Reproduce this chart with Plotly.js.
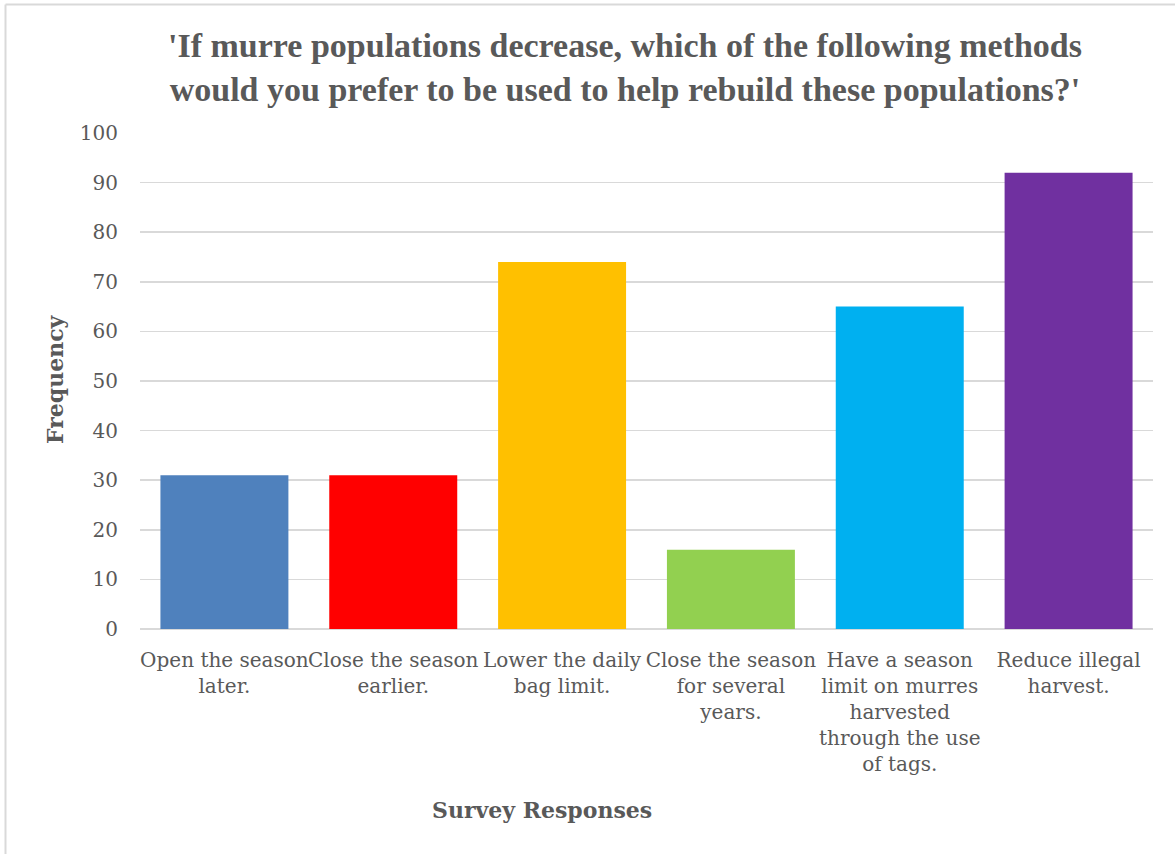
<!DOCTYPE html>
<html>
<head>
<meta charset="utf-8">
<script src="https://cdn.plot.ly/plotly-3.0.1.min.js"></script>
<style>html,body{margin:0;padding:0;background:#fff;}#chart{width:1175px;height:854px;}</style>
</head>
<body>
<div id="chart"></div>
<script>
var categories = [
  "Open the season<br>later.",
  "Close the season<br>earlier.",
  "Lower the daily<br>bag limit.",
  "Close the season<br>for several<br>years.",
  "Have a season<br>limit on murres<br>harvested<br>through the use<br>of tags.",
  "Reduce illegal<br>harvest."
];
var frequency = [31, 31, 74, 16, 65, 92];
var barColors = ["#4F81BD", "#FF0000", "#FFC000", "#92D050", "#00B0F0", "#7030A0"];
var yTicks = [0, 10, 20, 30, 40, 50, 60, 70, 80, 90, 100];
var titleText = "'If murre populations decrease, which of the following methods<br>would you prefer to be used to help rebuild these populations?'";
var xTitle = "Survey Responses";
var yTitle = "Frequency";

var gray = "#595959";
var serif = "DejaVu Serif, serif";

var L = 140, R = 22, T = 133, B = 225;
var W = 1175, H = 854;
var pw = W - L - R, ph = H - T - B;
function px2x(p){ return (p - L) / pw; }
function py2y(p){ return (H - B - p) / ph; }

var trace = {
  type: "bar",
  x: categories,
  y: frequency,
  marker: {color: barColors},
  hoverinfo: "x+y"
};

var layout = {
  width: W, height: H,
  margin: {l: L, r: R, t: T, b: B, pad: 0},
  paper_bgcolor: "#ffffff",
  plot_bgcolor: "#ffffff",
  bargap: 0.242,
  showlegend: false,
  title: {
    text: titleText,
    font: {family: "Liberation Serif, serif", size: 34, color: gray, weight: "bold"},
    x: px2x(625), xref: "paper", xanchor: "center",
    y: 1 - 57 / H, yref: "container", yanchor: "middle"
  },
  xaxis: {
    type: "category",
    tickfont: {family: serif, size: 20, color: gray},
    showgrid: false, zeroline: false, showline: false,
    ticks: "", ticklabelstandoff: 17,
    tickangle: 0, automargin: false
  },
  yaxis: {
    range: [0, 100],
    tickvals: yTicks,
    tickfont: {family: serif, size: 20, color: gray},
    showgrid: true, gridcolor: "#d9d9d9", gridwidth: 1.5,
    zeroline: true, zerolinecolor: "#d9d9d9", zerolinewidth: 1.5,
    showline: false, ticks: "", ticklabelstandoff: 21,
    automargin: false, fixedrange: true
  },
  annotations: [
    {text: "<b>" + xTitle + "</b>", xref: "paper", yref: "paper",
     x: px2x(542), y: py2y(810), xanchor: "center", yanchor: "middle",
     showarrow: false, font: {family: serif, size: 22, color: gray}},
    {text: "<b>" + yTitle + "</b>", xref: "paper", yref: "paper",
     x: px2x(55), y: py2y(379), xanchor: "center", yanchor: "middle",
     textangle: -90, showarrow: false, font: {family: serif, size: 22, color: gray}}
  ],
  shapes: [
    {type: "line", xref: "paper", yref: "paper", x0: px2x(5.5), x1: px2x(1176), y0: py2y(4.5), y1: py2y(4.5),
     line: {color: "#d9d9d9", width: 2}},
    {type: "line", xref: "paper", yref: "paper", x0: px2x(5.5), x1: px2x(5.5), y0: py2y(4.5), y1: py2y(856),
     line: {color: "#d9d9d9", width: 2}}
  ]
};

Plotly.newPlot("chart", [trace], layout, {displayModeBar: false, staticPlot: true});
</script>
</body>
</html>
